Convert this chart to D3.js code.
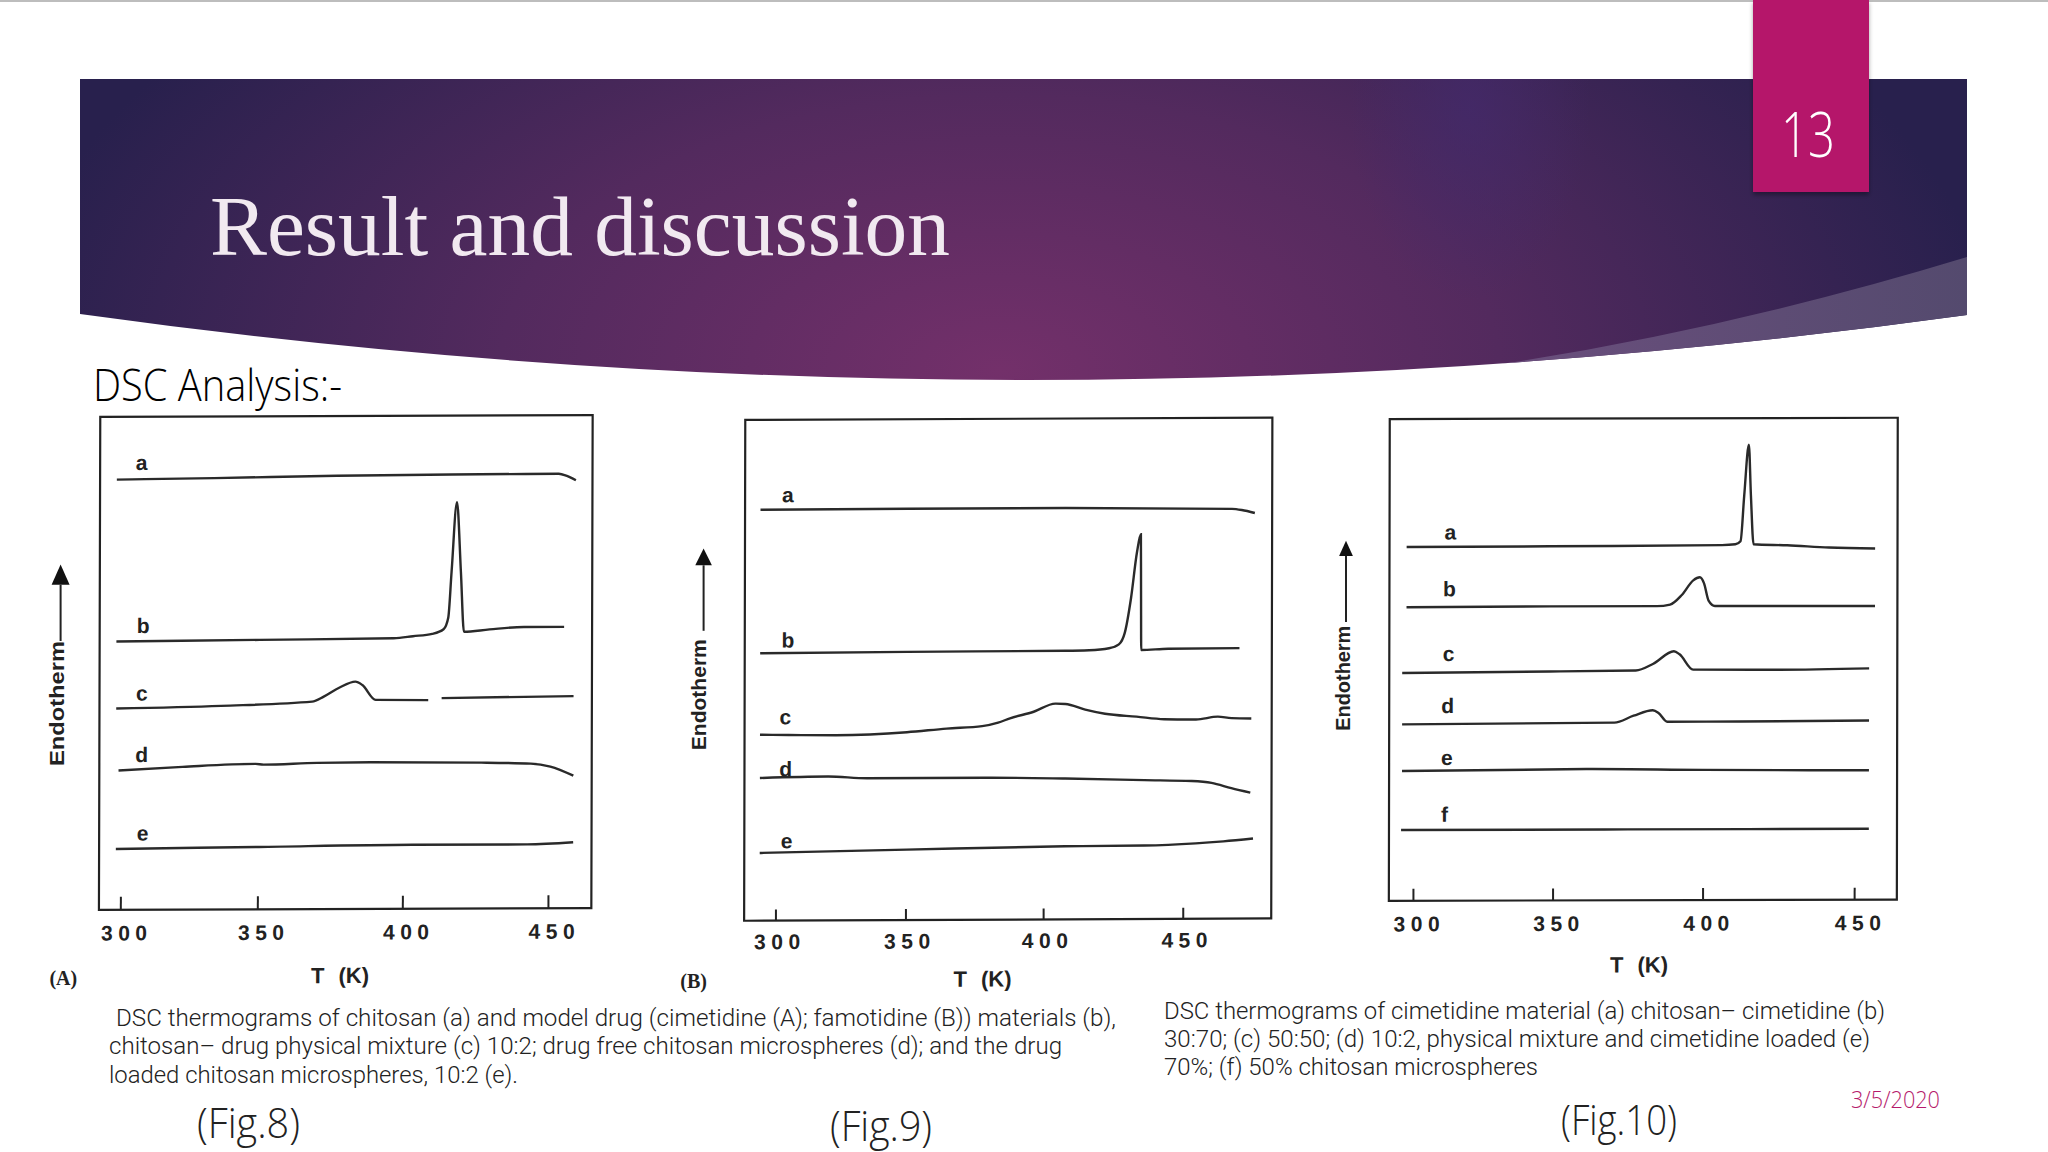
<!DOCTYPE html>
<html>
<head>
<meta charset="utf-8">
<title>Result and discussion</title>
<script src="https://cdn.jsdelivr.net/npm/d3@7"></script>
<style>
  html, body { margin: 0; padding: 0; background: #fff; }
  svg { display: block; }
  .lightText { font-family: "Open Sans", "Noto Sans", sans-serif; font-weight: 300; }
  .capText { font-family: "Roboto", "Open Sans", sans-serif; font-weight: 300; }
  .scanText { font-family: "Liberation Sans", sans-serif; font-weight: 700; fill: #222; }
</style>
</head>
<body>
<div id="slide"></div>
<script>
// tick labels shared by the three thermograms
var tickValues = [300, 350, 400, 450];

// curves: [T in K, signal height above the axis, arbitrary units]
// Fig.8 (A)
var fig8a = [[298.3,1124],[308.7,1125],[333.8,1127],[377,1132],[416.5,1134],[453.3,1135],[455.9,1130],[459.2,1118]];
var fig8b = [[298.3,701],[350.5,704],[396.8,707],[403.4,712],[410,718],[413.9,730],[415.5,760],[416.6,880],[418.4,1062],[419.8,880],[420.9,723],[429.7,729],[441.5,735],[455.3,735]];
var fig8c = [[298.3,526],[336.6,532],[368.7,542],[372.7,555],[378,578],[383.6,594],[386,585],[390.6,546],[408.7,545],[411,null],[413.3,550],[458.6,554]];
var fig8d = [[299.2,364],[322.6,373],[349.2,380],[352,378],[370.5,382],[389,383],[427,381],[444,378],[450.7,370],[458.6,346]];
var fig8e = [[298.3,159],[350.5,163],[403.4,167],[442.8,167],[458.6,172]];

// Fig.9 (B)
var fig9a = [[293.9,1074],[350.4,1075],[407.8,1075],[467.3,1071],[470.8,1068],[475.5,1060]];
var fig9b = [[293.9,699],[350.4,701],[407.8,702],[416.3,703],[423.4,708],[426.9,718],[429,748],[431.2,838],[433.3,958],[434.7,1006],[434.8,858],[434.9,703],[444.6,706],[470.1,707]];
var fig9c = [[293.9,486],[304.9,485],[323.1,484],[350.4,491],[364.8,500],[377.7,506],[383.5,515],[387.8,526],[396.4,543],[404.2,564],[407.8,563],[414.9,548],[422,537],[433.3,529],[443.2,522],[454.6,521],[462.4,528],[467.3,524],[474.4,523]];
var fig9d = [[293.9,373],[320.1,376],[335.3,371],[378.8,371],[407.8,368],[436.1,363],[453.1,360],[460.2,355],[467.3,341],[474.1,329]];
var fig9e = [[293.9,177],[350.4,184],[407.8,191],[436.1,192],[454.6,197],[464.5,202],[475.1,209]];

// Fig.10
var fig10a = [[297.5,924],[348.8,925],[406.2,927],[410.6,929],[412.3,937],[413.5,1057],[415,1189],[415.7,1057],[416.6,929],[427.7,926],[441.5,920],[456.7,917]];
var fig10b = [[297.5,767],[348.8,768],[384.6,768],[389,772],[392.9,797],[396.7,835],[398.9,843],[400.3,827],[401.8,782],[403.9,768],[456.7,767]];
var fig10c = [[296,595],[348.8,598],[377.6,600],[383.3,617],[390.3,650],[392.2,642],[396.7,602],[425.1,601],[454.8,604]];
var fig10d = [[296,461],[370.5,464],[376.9,482],[383.3,496],[385.2,489],[388.1,466],[412.5,466],[454.8,468]];
var fig10e = [[296,339],[361.6,343],[399.9,340],[454.8,338]];
var fig10f = [[295.7,185],[375,185],[454.8,185]];

var curveNames8 = ["a", "b", "c", "d", "e"];
var curveNames10 = ["a", "b", "c", "d", "e", "f"];

// where each scanned figure sits on the slide, tilt and lean are the scan's skew
var panels = [
  {
    curves: [fig8a, fig8b, fig8c, fig8d, fig8e], names: curveNames8,
    x0: 99.6, x1: 592, top: 416, bottom: 909, yMax: 1288, tilt: -0.0038, lean: 0.0027,
    tickX: [121, 258, 403, 548.6], tickLen: 13, tickDx: 6, tickDy: 23,
    labelX: [141, 143, 142, 142, 143], labelY: [463, 626, 693.5, 755, 833.5],
    unit: [340.8, 975.2], tag: "(A)", tagAt: [63.3, 977.9],
    endo: [56.8, 703.5, 125], arrow: [60.6, 564.6, 584.8, 641, 18]
  },
  {
    curves: [fig9a, fig9b, fig9c, fig9d, fig9e], names: curveNames8,
    x0: 744.7, x1: 1271.8, top: 418.8, bottom: 919.6, yMax: 1309, tilt: -0.0044, lean: 0.0023,
    tickX: [776, 906, 1043.7, 1183.3], tickLen: 11, tickDx: 4, tickDy: 21,
    labelX: [787.4, 787.8, 785.5, 785.9, 787], labelY: [494.9, 640.3, 716.9, 768.9, 840.9],
    unit: [983.2, 978.6], tag: "(B)", tagAt: [693.7, 981.7],
    endo: [698.5, 694.7, 111], arrow: [703.6, 548.5, 565.3, 630.8, 16.6]
  },
  {
    curves: [fig10a, fig10b, fig10c, fig10d, fig10e, fig10f], names: curveNames10,
    x0: 1389.3, x1: 1897.3, top: 418.4, bottom: 900.2, yMax: 1258.5, tilt: -0.0026, lean: 0.0019,
    tickX: [1413.4, 1553, 1703, 1854.6], tickLen: 12, tickDx: 6, tickDy: 23,
    labelX: [1450.1, 1449.4, 1448.6, 1447.8, 1447, 1444.8], labelY: [532.8, 589.4, 654.1, 706.2, 758.2, 814.9],
    unit: [1639.6, 964.5], tag: null,
    endo: [1343, 678.2, 105], arrow: [1346, 540.8, 556.1, 622, 13.8]
  }
];

var svg = d3.select("#slide")
  .append("svg")
  .attr("width", 2048)
  .attr("height", 1152);

var defs = svg.append("defs");

var bannerGrad = defs.append("radialGradient")
  .attr("id", "bannerGrad")
  .attr("gradientUnits", "userSpaceOnUse")
  .attr("cx", 1000).attr("cy", 370).attr("r", 1000)
  .attr("gradientTransform", "translate(1000,370) scale(1,0.55) translate(-1000,-370)");
bannerGrad.append("stop").attr("offset", 0).attr("stop-color", "#73306a");
bannerGrad.append("stop").attr("offset", 0.5).attr("stop-color", "#532a5e");
bannerGrad.append("stop").attr("offset", 1).attr("stop-color", "#28204d");

var glow = defs.append("radialGradient").attr("id", "glow");
glow.append("stop").attr("offset", 0).attr("stop-color", "#432a6c").attr("stop-opacity", 0.7);
glow.append("stop").attr("offset", 1).attr("stop-color", "#432a6c").attr("stop-opacity", 0);

var triGrad = defs.append("linearGradient")
  .attr("id", "triGrad")
  .attr("gradientUnits", "userSpaceOnUse")
  .attr("x1", 1476).attr("x2", 1967).attr("y1", 0).attr("y2", 0);
triGrad.append("stop").attr("offset", 0).attr("stop-color", "#6c4f7e");
triGrad.append("stop").attr("offset", 1).attr("stop-color", "#544a6e");

var bannerPath = "M80,79 H1967 V315 Q1023,445.5 80,314 Z";
defs.append("clipPath").attr("id", "bannerClip").append("path").attr("d", bannerPath);

var shadow = defs.append("filter").attr("id", "tabShadow");
shadow.append("feDropShadow")
  .attr("dx", 0).attr("dy", 3).attr("stdDeviation", 2)
  .attr("flood-color", "#000").attr("flood-opacity", 0.35);

// slide furniture
svg.append("rect").attr("width", 2048).attr("height", 1152).attr("fill", "#fff");
svg.append("rect").attr("width", 2048).attr("height", 2).attr("fill", "#bdbdbd");

var banner = svg.append("g").attr("clip-path", "url(#bannerClip)");
banner.append("rect").attr("x", 80).attr("y", 79).attr("width", 1887).attr("height", 320).attr("fill", "url(#bannerGrad)");
banner.append("ellipse").attr("cx", 1470).attr("cy", 110).attr("rx", 120).attr("ry", 190).attr("fill", "url(#glow)");
banner.append("path").attr("d", "M1967,257 Q1721,332 1476,368 L1967,400 Z").attr("fill", "url(#triGrad)");

svg.append("rect")
  .attr("x", 1753).attr("y", 0).attr("width", 116).attr("height", 192)
  .attr("fill", "#b5146a")
  .attr("filter", "url(#tabShadow)");

function slideText(str, x, y, size, len, fill, cls) {
  return svg.append("text")
    .attr("class", cls || "lightText")
    .attr("x", x)
    .attr("y", y)
    .attr("font-size", size)
    .attr("fill", fill)
    .attr("textLength", len)
    .attr("lengthAdjust", "spacingAndGlyphs")
    .text(str);
}

slideText("13", 1781, 157, 62, 54, "#fff");
slideText("Result and discussion", 210, 255, 85, 740, "#f1e9f0", "titleText")
  .attr("font-family", "Liberation Serif");
slideText("DSC Analysis:-", 93, 401, 44, 249, "#000");

// captions
var capColor = "#222";
slideText("DSC thermograms of chitosan (a) and model drug (cimetidine (A); famotidine (B)) materials (b),", 116, 1026, 23.5, 1000, capColor, "capText");
slideText("chitosan– drug physical mixture (c) 10:2; drug free chitosan microspheres (d); and the drug", 109, 1054, 23.5, 953, capColor, "capText");
slideText("loaded chitosan microspheres, 10:2 (e).", 109, 1083, 23.5, 409, capColor, "capText");
slideText("DSC thermograms of cimetidine material (a) chitosan– cimetidine (b)", 1164, 1019, 23.5, 721, capColor, "capText");
slideText("30:70; (c) 50:50; (d) 10:2, physical mixture and cimetidine loaded (e)", 1164, 1047, 23.5, 706, capColor, "capText");
slideText("70%; (f) 50% chitosan microspheres", 1164, 1075, 23.5, 374, capColor, "capText");

slideText("(Fig.8)", 197, 1138, 42, 103, "#222");
slideText("(Fig.9)", 830, 1141, 42, 102, "#222");
slideText("(Fig.10)", 1561, 1135, 42, 116, "#222");
slideText("3/5/2020", 1851, 1108, 23, 89, "#b5196b");

// the three thermograms
panels.forEach(function(p) {
  var cx = (p.x0 + p.x1) / 2;
  var cy = (p.top + p.bottom) / 2;

  var chartGroup = svg.append("g")
    .attr("transform", "matrix(1," + p.tilt + "," + (-p.lean) + ",1," + (p.lean * cy) + "," + (-p.tilt * cx) + ")");

  // tick spacing on the scans is not quite even so the scale has a stop at each tick
  var xScale = d3.scaleLinear().domain(tickValues).range(p.tickX);
  var yScale = d3.scaleLinear().domain([0, p.yMax]).range([p.bottom, p.top]);

  chartGroup.append("rect")
    .attr("x", p.x0)
    .attr("y", p.top)
    .attr("width", p.x1 - p.x0)
    .attr("height", p.bottom - p.top)
    .attr("fill", "none")
    .attr("stroke", "#222")
    .attr("stroke-width", 2.2);

  var bottomAxis = d3.axisBottom(xScale)
    .tickValues(tickValues)
    .tickSizeInner(-p.tickLen)
    .tickSizeOuter(0)
    .tickFormat(d3.format("d"));

  var axisGroup = chartGroup.append("g")
    .attr("transform", "translate(0," + p.bottom + ")")
    .call(bottomAxis);

  axisGroup.select(".domain").remove();
  axisGroup.selectAll("line").attr("stroke", "#222").attr("stroke-width", 2);
  axisGroup.selectAll("text")
    .attr("class", "scanText")
    .attr("y", p.tickDy)
    .attr("dx", p.tickDx)
    .attr("dy", "0.36em")
    .attr("font-size", 21)
    .attr("letter-spacing", 5.5);

  var line = d3.line()
    .defined(function(d) { return d[1] !== null; })
    .x(function(d) { return xScale(d[0]); })
    .y(function(d) { return yScale(d[1]); })
    .curve(d3.curveMonotoneX);

  chartGroup.selectAll(".curve")
    .data(p.curves)
    .enter()
    .append("path")
    .attr("class", "curve")
    .attr("d", line)
    .attr("fill", "none")
    .attr("stroke", "#2a2a2a")
    .attr("stroke-width", 2.4);

  chartGroup.selectAll(".curveName")
    .data(p.names)
    .enter()
    .append("text")
    .attr("class", "scanText curveName")
    .attr("x", function(d, i) { return p.labelX[i]; })
    .attr("y", function(d, i) { return p.labelY[i]; })
    .attr("dy", "0.3em")
    .attr("text-anchor", "middle")
    .attr("font-size", 21)
    .text(function(d) { return d; });

  chartGroup.append("text")
    .attr("class", "scanText")
    .attr("x", p.unit[0])
    .attr("y", p.unit[1])
    .attr("dy", "0.36em")
    .attr("text-anchor", "middle")
    .attr("font-size", 22)
    .attr("word-spacing", 8)
    .text("T (K)");

  if (p.tag) {
    svg.append("text")
      .attr("x", p.tagAt[0])
      .attr("y", p.tagAt[1])
      .attr("dy", "0.33em")
      .attr("text-anchor", "middle")
      .attr("font-family", "Liberation Serif")
      .attr("font-weight", 700)
      .attr("font-size", 20)
      .attr("fill", "#222")
      .text(p.tag);
  }

  // y axis has only the rotated title and an arrow
  svg.append("text")
    .attr("class", "scanText")
    .attr("transform", "translate(" + p.endo[0] + "," + p.endo[1] + ") rotate(-90)")
    .attr("dy", "0.36em")
    .attr("text-anchor", "middle")
    .attr("font-size", 20)
    .attr("textLength", p.endo[2])
    .attr("lengthAdjust", "spacingAndGlyphs")
    .text("Endotherm");

  var a = p.arrow;
  svg.append("line")
    .attr("x1", a[0]).attr("x2", a[0])
    .attr("y1", a[2]).attr("y2", a[3])
    .attr("stroke", "#222")
    .attr("stroke-width", 2);
  svg.append("path")
    .attr("d", "M" + a[0] + "," + a[1] + "L" + (a[0] + a[4] / 2) + "," + a[2] + "L" + (a[0] - a[4] / 2) + "," + a[2] + "Z")
    .attr("fill", "#111");
});
</script>
</body>
</html>
